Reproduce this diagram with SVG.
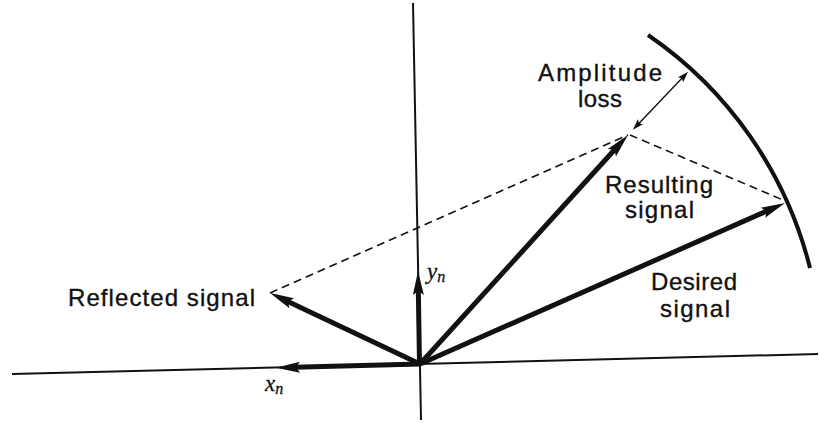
<svg xmlns="http://www.w3.org/2000/svg" width="820" height="423" viewBox="0 0 820 423">
<style>
  .lbl { font-family: "Liberation Sans", Arial, sans-serif; font-size: 24px; fill: #111; stroke: #111; stroke-width: 0.35; }
  .math { font-family: "Liberation Serif", "DejaVu Serif", serif; font-style: italic; fill: #111; stroke: #111; stroke-width: 0.3; }
  .axis { stroke: #111; stroke-width: 2; fill: none; }
  .vec { stroke: #111; stroke-width: 5; fill: none; marker-end: url(#big); }
  .dash { stroke: #111; stroke-width: 1.6; stroke-dasharray: 8 5; fill: none; }
  .thin { stroke: #111; stroke-width: 1.4; fill: none; marker-start: url(#small); marker-end: url(#small); }
</style>
<defs>
  <marker id="big" markerUnits="userSpaceOnUse" markerWidth="30" markerHeight="16" viewBox="-8 -8 30 16" refX="0" refY="0" orient="auto">
    <path d="M18,0 L-6,-5.5 L-2,0 L-6,5.5 Z" fill="#111"/>
  </marker>
  <marker id="small" markerUnits="userSpaceOnUse" markerWidth="14" markerHeight="10" viewBox="-4 -5 14 10" refX="0" refY="0" orient="auto-start-reverse">
    <path d="M8,0 L-3,-3.5 L-1,0 L-3,3.5 Z" fill="#111"/>
  </marker>
</defs>
<rect width="820" height="423" fill="#fff"/>
<g id="axes">
  <line class="axis" x1="12" y1="374" x2="818" y2="354"/>
  <line class="axis" x1="413" y1="3" x2="421" y2="420"/>
</g>
<g id="circle-arc">
  <path d="M648,35 A400,400 0 0 1 810,268" stroke="#111" stroke-width="4" fill="none"/>
</g>
<g id="connectors">
  <line class="dash" x1="270" y1="293" x2="628" y2="135"/>
  <line class="dash" x1="630" y1="135" x2="783" y2="200"/>
  <line class="vec" x1="420" y1="364" x2="286.3" y2="300.7"/>
  <line class="vec" x1="419.5" y1="364" x2="418.3" y2="289"/>
  <line class="vec" x1="420" y1="364" x2="294" y2="367.3"/>
  <line class="vec" x1="420" y1="364" x2="615.9" y2="148.3"/>
  <line class="vec" x1="420" y1="364" x2="768.5" y2="210.3"/>
  <line class="thin" x1="638.4" y1="123.9" x2="682.6" y2="77.6"/>
</g>
<g id="reflected-signal">
  <text class="lbl" x="68" y="306" textLength="187" lengthAdjust="spacing">Reflected signal</text>
</g>
<g id="amplitude-loss">
  <text class="lbl" x="538" y="81" textLength="124" lengthAdjust="spacing">Amplitude</text>
  <text class="lbl" x="578" y="107" textLength="44" lengthAdjust="spacing">loss</text>
</g>
<g id="resulting-signal">
  <text class="lbl" x="605" y="193" textLength="108" lengthAdjust="spacing">Resulting</text>
  <text class="lbl" x="625" y="218" textLength="69" lengthAdjust="spacing">signal</text>
</g>
<g id="desired-signal">
  <text class="lbl" x="651" y="290" textLength="86" lengthAdjust="spacing">Desired</text>
  <text class="lbl" x="660" y="317" textLength="70" lengthAdjust="spacing">signal</text>
</g>
<g id="yn-label">
  <text class="math" x="427" y="279" font-size="23">y<tspan font-size="16" dy="3">n</tspan></text>
</g>
<g id="xn-label">
  <text class="math" x="265" y="391" font-size="23">x<tspan font-size="16" dy="3">n</tspan></text>
</g>
</svg>
